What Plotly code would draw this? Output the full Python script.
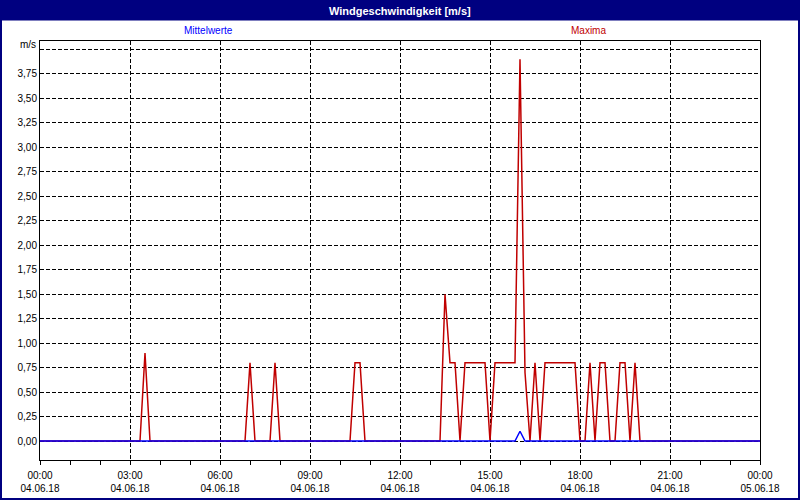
import plotly.graph_objects as go

DAY = "2018-06-04"
NEXT = "2018-06-05"

# Maxima (red) – vertices of the 10-minute series
max_times = ["00:00", "03:20", "03:30", "03:40", "06:50", "07:00", "07:10", "07:40", "07:50", "08:00",
             "10:20", "10:30", "10:40", "10:50", "13:20", "13:30", "13:40", "13:50", "14:00", "14:10",
             "14:50", "15:00", "15:10", "15:50", "16:00", "16:10", "16:20", "16:30", "16:40", "16:50",
             "17:50", "18:00", "18:10", "18:20", "18:30", "18:40", "18:50", "19:00", "19:10", "19:20",
             "19:30", "19:40", "19:50", "20:00", "24:00"]
max_values = [0, 0, 0.9, 0, 0, 0.8, 0, 0, 0.8, 0,
              0, 0.8, 0.8, 0, 0, 1.5, 0.8, 0.8, 0, 0.8,
              0.8, 0, 0.8, 0.8, 3.9, 0.7, 0, 0.8, 0, 0.8,
              0.8, 0, 0, 0.8, 0, 0.8, 0.8, 0, 0, 0.8,
              0.8, 0, 0.8, 0, 0]

# Mittelwerte (blue)
mean_times = ["00:00", "15:50", "16:00", "16:10", "24:00"]
mean_values = [0, 0, 0.1, 0, 0]

# Axis ticks
x_tick_times = ["00:00", "03:00", "06:00", "09:00", "12:00", "15:00", "18:00", "21:00", "24:00"]
x_tick_dates = ["04.06.18"] * 8 + ["05.06.18"]
y_tick_values = [0, 0.25, 0.5, 0.75, 1.0, 1.25, 1.5, 1.75, 2.0, 2.25, 2.5, 2.75, 3.0, 3.25, 3.5, 3.75, 4.0]
y_tick_labels = ["0,00", "0,25", "0,50", "0,75", "1,00", "1,25", "1,50", "1,75", "2,00", "2,25",
                 "2,50", "2,75", "3,00", "3,25", "3,50", "3,75", ""]


def ts(t):
    if t == "24:00":
        return NEXT + " 00:00"
    return DAY + " " + t


FONT = "Liberation Sans"
RED = "#C00000"
BLUE = "#0000FF"
NAVY = "#000080"

fig = go.Figure()
fig.add_trace(go.Scatter(x=[ts(t) for t in max_times], y=max_values, mode="lines",
                         line=dict(color=RED, width=1.5), name="Maxima"))
fig.add_trace(go.Scatter(x=[ts(t) for t in mean_times], y=mean_values, mode="lines",
                         line=dict(color=BLUE, width=1.5), name="Mittelwerte"))

W, H = 800, 500
L, R, T, B = 40, 40, 41, 40
pw, ph = W - L - R, H - T - B


def px(x):
    return (x - L) / pw


def py(y):
    return (H - B - y) / ph


fig.update_layout(
    width=W, height=H,
    margin=dict(l=L, r=R, t=T, b=B, autoexpand=False),
    paper_bgcolor="white", plot_bgcolor="white",
    showlegend=False,
    font=dict(family=FONT, size=10, color="black"),
    xaxis=dict(
        type="date",
        range=[ts("00:00"), ts("24:00")],
        tickvals=[ts(t) for t in x_tick_times],
        ticktext=[f"{t if t != '24:00' else '00:00'}<br>{d}" for t, d in zip(x_tick_times, x_tick_dates)],
        tickangle=0,
        ticks="outside", ticklen=4, tickcolor="black",
        ticklabelstandoff=2,
        minor=dict(dtick=3600000, ticks="outside", ticklen=4, tickcolor="black", showgrid=False),
        showgrid=True, gridcolor="black", gridwidth=1, griddash="4px,2px",
        showline=True, linecolor="black", linewidth=1, mirror=True,
        zeroline=False, automargin=False,
        tickfont=dict(family=FONT, size=10, color="black"),
    ),
    yaxis=dict(
        range=[-0.194, 4.087],
        tickvals=y_tick_values, ticktext=y_tick_labels,
        ticks="", showgrid=True, gridcolor="black", gridwidth=1, griddash="4px,2px",
        showline=True, linecolor="black", linewidth=1, mirror=True,
        zeroline=False, automargin=False,
        tickfont=dict(family=FONT, size=10, color="black"),
    ),
    shapes=[
        dict(type="rect", xref="paper", yref="paper", x0=px(0), x1=px(800), y0=py(20.5), y1=py(0),
             fillcolor=NAVY, line=dict(width=0), layer="above"),
        dict(type="rect", xref="paper", yref="paper", x0=px(1), x1=px(799), y0=py(499), y1=py(1),
             fillcolor="rgba(0,0,0,0)", line=dict(color=NAVY, width=2), layer="above"),
    ],
    annotations=[
        dict(text="<b>Windgeschwindigkeit [m/s]</b>", xref="paper", yref="paper", x=px(400), y=py(10.5),
             xanchor="center", yanchor="middle", showarrow=False,
             font=dict(family=FONT, size=11, color="white")),
        dict(text="Mittelwerte", xref="paper", yref="paper", x=px(208), y=py(31),
             xanchor="center", yanchor="middle", showarrow=False,
             font=dict(family=FONT, size=10, color=BLUE)),
        dict(text="Maxima", xref="paper", yref="paper", x=px(588), y=py(31),
             xanchor="center", yanchor="middle", showarrow=False,
             font=dict(family=FONT, size=10, color=RED)),
        dict(text="m/s", xref="paper", yref="paper", x=px(38), y=py(44.5),
             xanchor="right", yanchor="middle", showarrow=False,
             font=dict(family=FONT, size=10, color="black")),
    ],
)

fig.write_html("out.html", config={"displayModeBar": False},
               post_script="document.body.style.margin='0';document.body.style.overflow='hidden';")
